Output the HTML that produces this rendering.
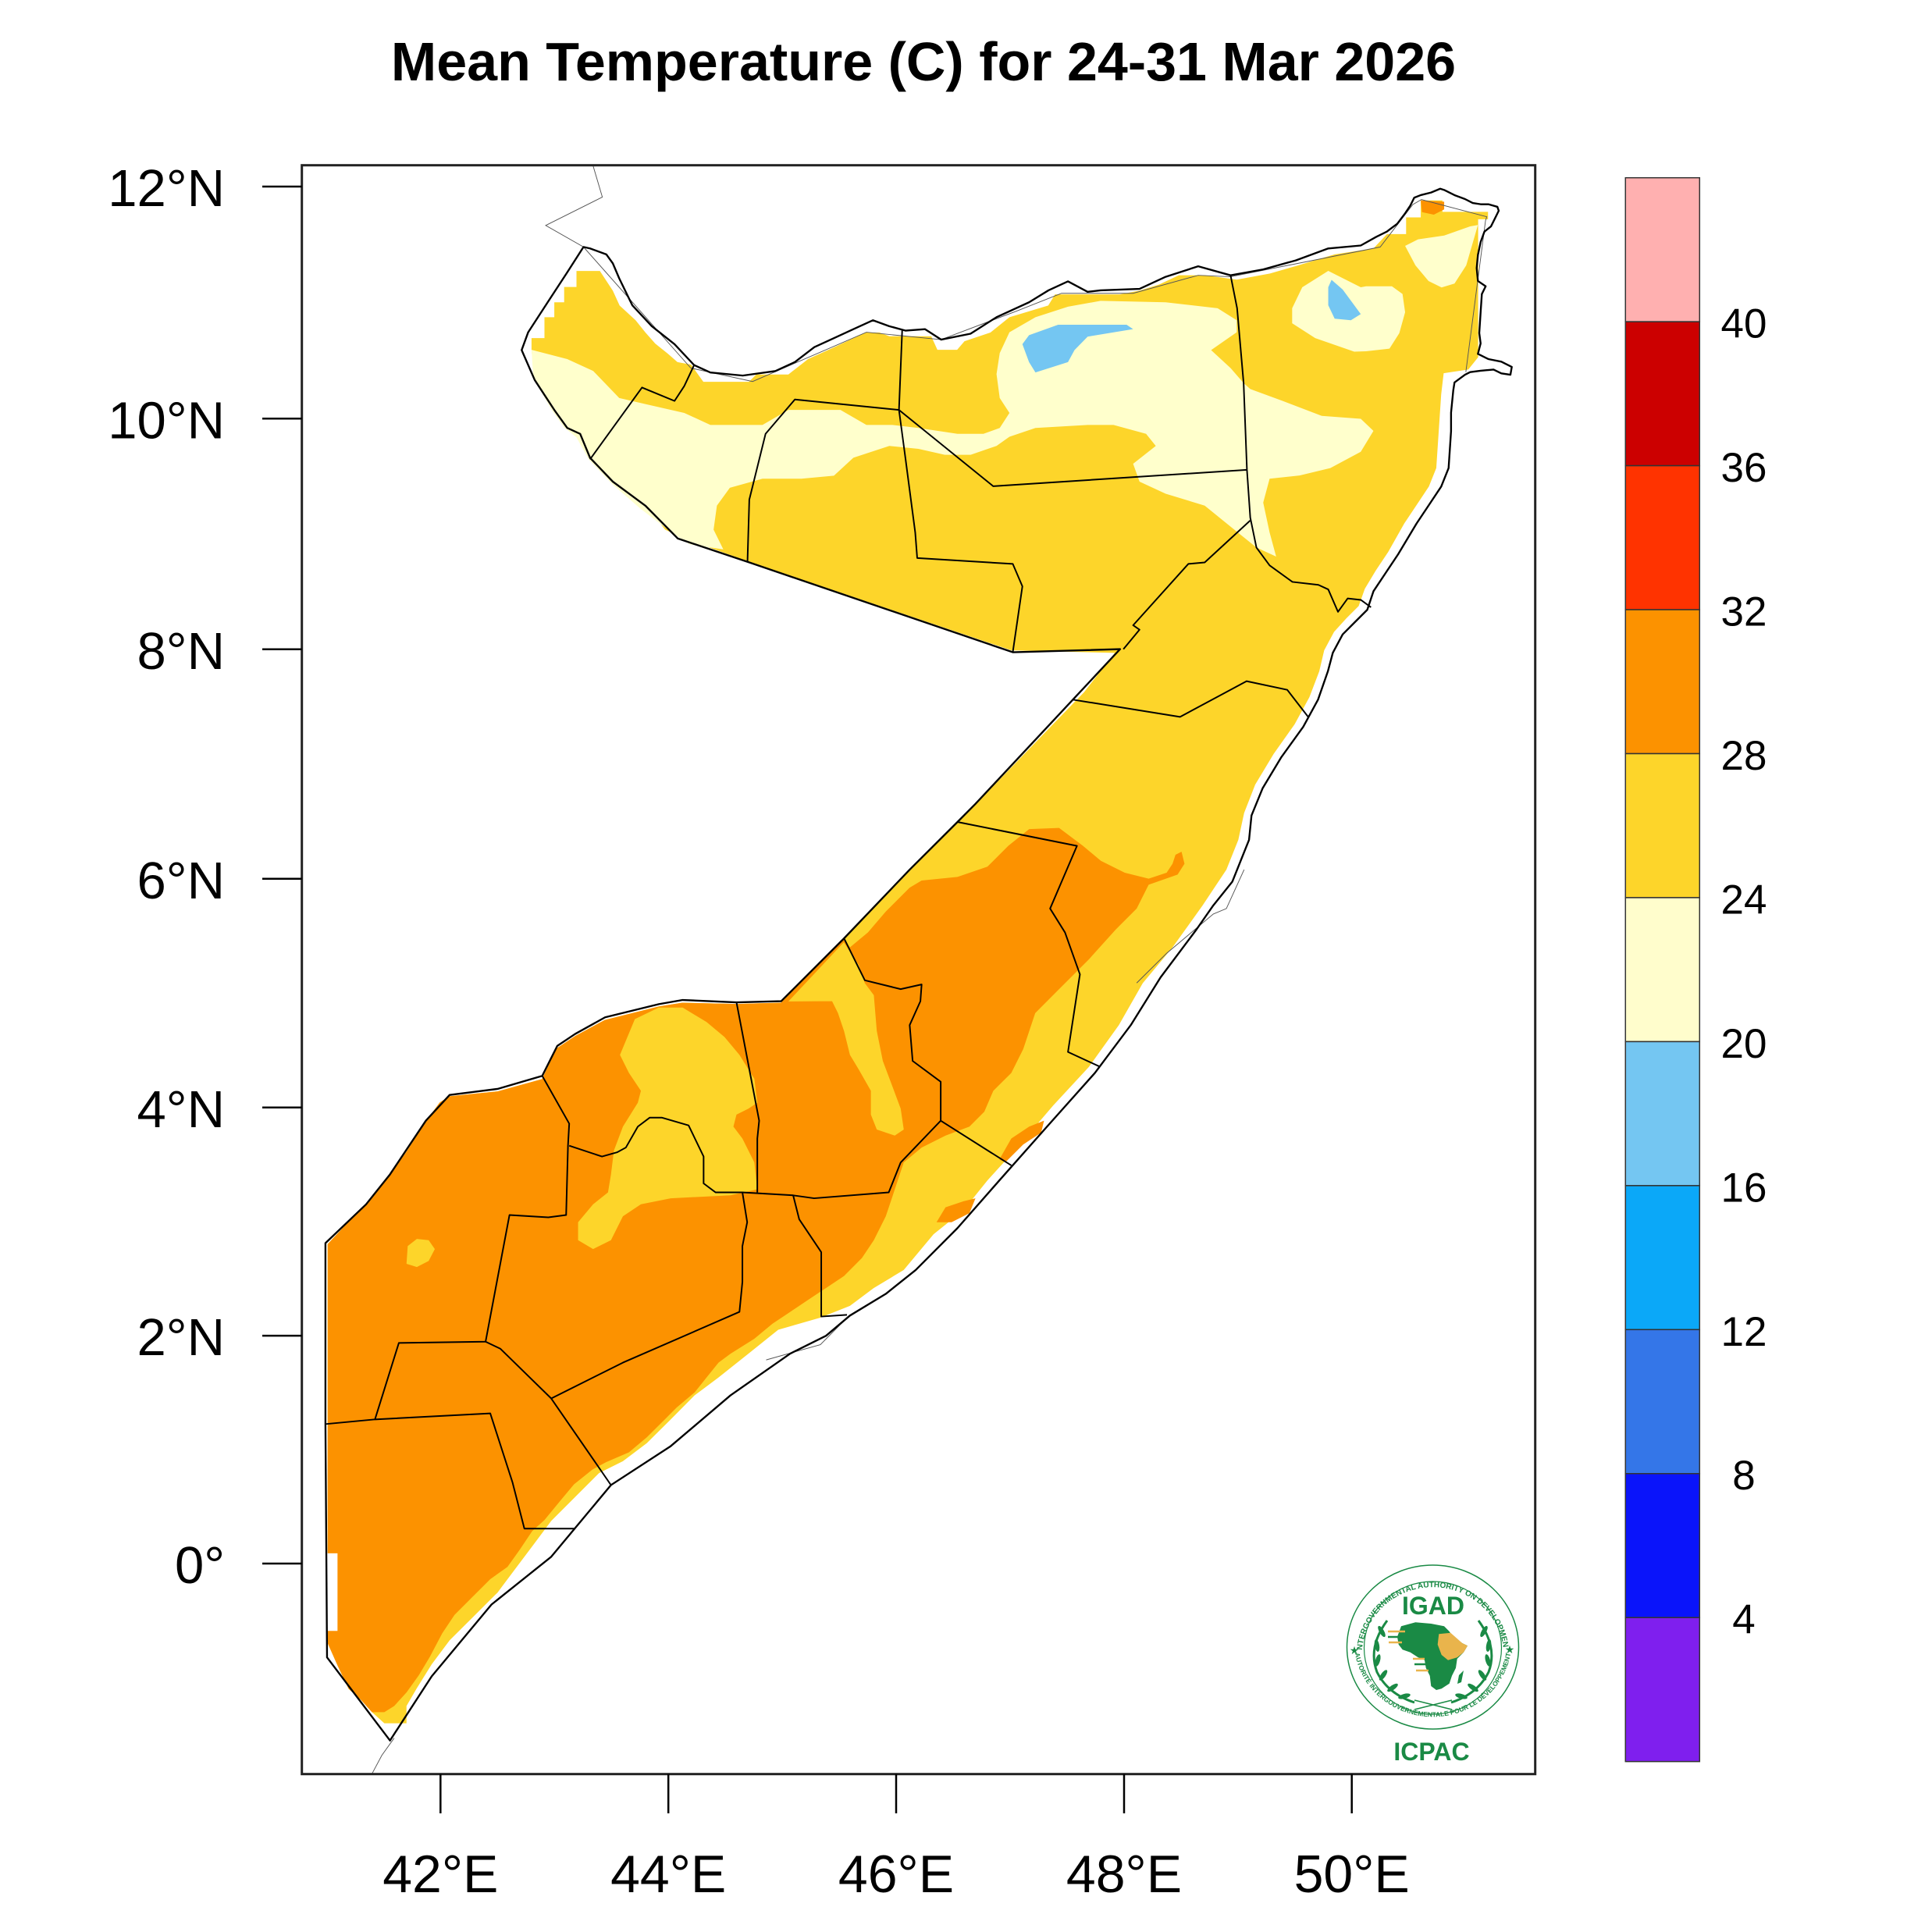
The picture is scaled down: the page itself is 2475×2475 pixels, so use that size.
<!DOCTYPE html>
<html><head><meta charset="utf-8"><style>
html,body{margin:0;padding:0;background:#fff;}
body{width:2475px;height:2475px;overflow:hidden;}
svg{display:block;font-family:"Liberation Sans",Arial,Helvetica,sans-serif;}
</style></head><body>
<svg width="2475" height="2475" viewBox="0 0 2475 2475" xmlns="http://www.w3.org/2000/svg">
<rect width="2475" height="2475" fill="#fff"/>
<text x="1183" y="103" font-size="70" font-weight="bold" text-anchor="middle" fill="#000">Mean Temperature (C) for 24-31 Mar 2026</text>
<defs><clipPath id="pc"><rect x="386.7" y="211.7" width="1580" height="2061"/></clipPath>
<path id="arcTop" d="M1745,2112 A91,88 0 0 1 1926,2112"/>
<path id="arcBot" d="M1735,2112 A101,97 0 0 0 1936,2112"/>
</defs>
<g clip-path="url(#pc)"><g transform="scale(1.578)">
<!-- base fill (yellow) -->
<polygon fill="#FDD52A" points="468,220 487,220 497.5,236 503,248 516,260 524,270 532,279 542,287 550,294 561,296 571,310 608,310 614,304 640,304 656,291.5 677,282 693,274.5 703,270 714,270 722,273 756,273 761,284 777,284 783,277 804,270 819.5,257.5 851,248 856.5,239 909,239 925,236 941,231 957,223.5 978,223.5 1004,227 1031,222 1052,216 1083.5,206.5 1115,201.7 1126,190 1141.5,190 1141.5,176.5 1153.4,176.5 1153.4,162.7 1171,162.7 1171,172 1208,172 1208,178 1200,178 1200,290 1192,300 1172,303 1170,320 1168,350 1166,380 1160,395 1150,410 1140,425 1127,448 1117,463 1108,478 1103,492 1093,502 1083,513 1075,528 1071,545 1063,566 1051,588 1034,612 1019,637 1010,660 1005.3,681.8 995.6,706 976.2,735.2 951.9,769.1 927.7,798.2 908.3,832.2 884,866.1 854.9,897.6 825.8,931.6 801.6,958.3 782.2,982.5 757.9,1002 733.7,1031 709.4,1045.6 690,1060.1 665.7,1069.8 631.8,1079.5 607.6,1098.9 583.3,1118.3 563.9,1132.8 544.5,1152.3 525.1,1171.6 505.7,1186.2 486.3,1195.9 466.9,1215.3 447.5,1234.7 433,1254.1 418.4,1273.5 403.9,1292.9 384.5,1312.3 365,1331.7 350.5,1351.1 338.4,1370.5 330,1385 330,1399 312,1399 302,1390 293,1380 283,1371 274,1352 266,1334 266,1010 280,995 297,978 317,953 330,935 346,910 357,895 365,890 404,886 440,876 452,851 467,841 491,828 535,817 554,814 598,815 634,814 685,762 738.5,707 777,668 792,653 880,562 905,530 821,528 608,456 555,437 540,430 523.9,410 497.5,391 479,372 471,352 460.5,347 450,333 434,308.5 431.5,284 431.5,274.5 442,274.5 442,257.5 450,257.5 450,245.4 458,245.4 458,233 468,233"/>
<!-- light yellow -->
<polygon fill="#FFFFCC" points="431.5,284 460.5,291.5 481.6,301.2 502.7,323.1 523.9,328 555.5,335.2 576.7,345 619,345 640,332.8 682.3,332.8 703.4,345 724.5,345 745.6,347.4 777.3,352.2 798.4,352.2 811.6,347.4 819.5,335.2 811.6,323.1 809,303.7 811.6,286.7 819.5,269.7 840.6,257.5 867,249 893.5,244.2 946.3,245.4 988.5,250.2 1004,260 1004,269.7 983.2,284.2 999,298.8 1009.6,311 1015,315.8 1041.3,325.5 1073,337.6 1104.7,340 1115,349.8 1104.7,366.8 1080,380 1055,386 1030.7,388.6 1025.5,408 1030.7,432.3 1036,451.8 1020,444.5 999,427.5 978,410.5 946.3,400.8 925.1,391 919.9,376.5 938.3,362 930.4,352.2 904,345 883,345 840.6,347.4 819.5,354.6 809,362 788,369.2 767,369.2 745.6,364.4 722,362 692.8,371.6 677,386.2 650.6,388.6 619,388.6 592.5,396 582,410.5 579.3,430 587.2,446 560,442 545,432 520,413 497,393 478,373 468,355 458,347 448,333 433,307"/>
<polygon fill="#FFFFCC" points="1049,250.2 1057.2,233.2 1078.3,219.9 1104.7,233.2 1109,232.4 1130,232.4 1138.6,238.7 1140.7,253.5 1136,270.4 1128,283 1109,285.2 1099.4,285.5 1067.7,274.5 1049,262.4"/>
<polygon fill="#FFFFCC" points="1140.7,199.6 1151.2,194.3 1172.4,191.2 1193.5,183.8 1199.8,182.7 1190.3,215.5 1180.8,230.2 1170.3,233.4 1159.7,228.1 1149.1,215.5"/>
<!-- light blue -->
<polygon fill="#74C6F2" points="835.4,272.1 859,263.6 914.6,263.6 919.9,267.2 883,273.3 872.3,284.2 867,294 840.6,302.4 835.4,294 830,279.4"/>
<polygon fill="#74C6F2" points="1081,227.2 1090,235 1104.7,255 1096.7,260 1083.5,258.7 1078.3,247.8 1078.3,233.2"/>
<!-- orange south -->
<polygon fill="#FC9200" points="690,769.1 704.6,757 719.1,740 738.5,720.6 748.2,714.8 777.3,711.9 801.6,703.6 818.5,686.7 835.5,673.1 859.8,672.1 879.2,686.7 893.7,698.8 913.1,708.5 932.5,713.3 947.1,708.5 951.9,701.2 954.3,693.9 959.2,691.5 961.6,701.2 956,710 932.5,718.2 922.8,737.6 905.8,754.6 884,778.8 859.8,803 840.4,822.5 830.7,851.6 821,871 806.4,885.5 799.1,902.5 787,914.6 767.6,921.9 748.2,931.6 733.7,943.7 728.8,958.3 724,972.8 719.1,987.4 709.4,1006.8 699.7,1021.3 685.2,1035.9 670.6,1045.6 656,1055.3 641.5,1065 627,1074.7 612.4,1086.8 593,1099 583.3,1106.2 573.6,1118.3 563.9,1130.4 549.4,1142.6 539.7,1152.3 525.1,1166.8 510.6,1179 492,1187 481,1193 466,1205 456,1217 442,1234 432,1243 422,1258 412,1272 398,1282 383,1297 369,1311 359,1326 349,1345 340,1360 330,1374 320,1385 312,1390 302,1390 293,1380 283,1371 274,1352 266,1334 266,1010 280,995 297,978 317,953 330,935 346,910 357,895 365,890 404,886 440,876 452,851 467,841 491,828 535,817 554,814 598,815 634,814 685,762"/>
<!-- yellow patches over orange -->
<polygon fill="#FDD52A" points="510.6,871 503.3,856.4 515.4,827.3 534.8,818 554.2,818 573.6,829.7 588.2,841.9 600.3,856.4 612.4,875.8 614.8,895.2 607.6,900 597.9,904.9 595.4,914.6 602.7,924.3 612.4,943.7 614.8,965.5 593,970.4 544.5,972.8 520.3,977.7 505.7,987.4 496,1006.8 481.5,1014 469.3,1006.8 469.3,992.2 481.5,977.7 493.6,968 496,953.4 498.4,934 505.7,914.6 517.8,895.2 520.3,885.5"/>
<polygon fill="#FDD52A" points="640,813 685,765 697.3,783.7 702.1,798.2 709.4,807.9 711.8,837 716.7,861.3 724,880.7 731.2,900 733.7,917 726.4,921.9 711.8,917 707,904.9 707,885.5 697.3,868.5 690,856.4 685.2,837 680.3,822.5 675.5,812.8 665.7,812.8"/>
<polygon fill="#FDD52A" points="331,1011.6 338.4,1005.8 348,1006.8 353,1014 348,1023.7 338.4,1028.6 330,1026"/>
<!-- orange patches -->
<polygon fill="#FC9200" points="811.3,941.3 821,924.3 835.5,914.6 847.6,909.8 845.2,919.5 830.7,929.1 816.1,943.7"/>
<polygon fill="#FC9200" points="760.3,992.2 767.6,980.1 782.2,975.2 791.9,972.8 787,984.9 772.5,992.2"/>
<polygon fill="#FC9200" points="1153.4,162.7 1172.4,163.7 1172.4,170 1164,174.3 1154.4,172.2"/>
<rect x="265.6" y="1261" width="8.4" height="63" fill="#fff"/>
<!-- gray thin lines -->
<g fill="none" stroke="#555" stroke-width="0.6">
<polyline points="481,133 489,160 443,183 473.7,200.5 560.8,298.8 611,309.7 703.4,269.7 764,275.7 824.8,252.7 861.8,238.1 919.9,238.1 972.7,223.5 999,224.7 1120.5,200.5 1147,166 1154,162 1207,176 1206,179 1190,302"/>
<polyline points="1010,706 995.6,737.6 985,742 947,774 922.8,798"/>
<polyline points="622,1104 666,1091.6 687.6,1069.8"/>
<polyline points="320,1411 310,1425 302,1440"/>
</g>
<!-- admin boundaries -->
<g fill="none" stroke="#000" stroke-width="1.25" stroke-linejoin="round">
<polyline points="563.5,296.4 555.5,313.4 547.6,325.5 521.2,314.6 479,372.9"/>
<polyline points="606.8,456.6 608.3,405.6 621.5,352.2 645.3,324.3 729.8,332.8"/>
<polyline points="732.4,268.4 729.8,332.8 735,371.6 743,432.3 744.6,453 822.2,457.8 830,476 822.2,529.5"/>
<polyline points="729.8,332.8 806.3,394.7 1012.3,381.4"/>
<polyline points="999,223.5 1004.3,250.2 1009.6,311 1012.3,381.4 1015,420.2 1020,444.5 1030.7,459 1049.2,472.4 1070.3,474.8 1078.3,478.5 1086.2,496.7 1094.1,485.8 1104.7,487 1113,493"/>
<polyline points="1014.9,422.6 978,456.6 964.7,457.8 919.9,507.6 925.1,511.2 912,527"/>
<polyline points="871,568 958,582 1012,553 1045,560 1062,582"/>
<polyline points="777.3,667.3 874.3,686.7 852.5,737.6 864.6,757 876.7,791 867,854 893,866"/>
<polyline points="685.2,761.8 702.1,795.8 731.2,803 748.2,799.2 747.2,812.8 738.5,832.2 740.9,861.3 763.7,878.2 763.7,909.8 731.2,943.7 721.5,968 660.9,972.8 643.9,970.4 602.7,968 580.9,968 571.2,960.7 571.2,938.9 559,913.6 537.2,907.3 527.5,907.3 517.8,914.6 508.1,931.6 500.9,935.5 488.7,938.9 462.1,930.1"/>
<polyline points="763.7,909.8 821,946.1"/>
<polyline points="597.9,813.7 616.3,909.8 614.8,924.3 614.8,968"/>
<polyline points="602.7,968 606.6,992.2 602.7,1011.6 602.7,1040.7 600.3,1065 505.7,1106.2 447.5,1135.3"/>
<polyline points="643.9,970.4 648.8,989.8 666.7,1016.5 666.7,1068.8 687.6,1067.4"/>
<polyline points="440.2,873.4 462.1,912.2 461.1,930.1 459.6,986.4 445.1,988.3 413.6,986.4 394.2,1089.2 323.8,1090.2 304.4,1152.3"/>
<polyline points="394.2,1089.2 406.3,1095 447.5,1135.3 496,1205.6"/>
<polyline points="264.2,1156.1 304.4,1152.3 398,1147.4 416,1203.2 425.7,1241 466.9,1241"/>
</g>
<!-- country outline -->
<polygon fill="none" stroke="#000" stroke-width="1.5" stroke-linejoin="round" points="473.7,200.5 479,201.7 492.2,206.5 497.5,213.8 502.7,226 513.3,247.8 529.1,264.8 547.6,279.4 563.5,296.4 576.7,302.4 603,304.9 629.5,301.2 645.3,293.9 661.1,281.8 677,274.5 692.8,267.2 708.6,260 721.9,264.8 735,268.4 750.9,267.2 764,275.7 787.9,270.9 809,257.5 835.4,245.4 851.2,235.7 867,228.4 882.9,236.9 893.5,235.7 925.1,234.5 946.3,224.7 972.7,216.2 999,223.5 1025.5,218.7 1051.9,211.4 1078.3,201.7 1104.7,199.3 1117.4,192.2 1125.9,188 1134.3,181.7 1140.7,173.2 1144.9,166.9 1148.1,160.5 1153.4,158.4 1161.8,156.3 1169.2,153.2 1172.4,154.2 1180.8,158.4 1189.3,161.6 1195.6,164.8 1202,165.8 1208.3,165.8 1215.6,167.9 1216.7,171.1 1213.6,177.4 1210.4,183.8 1205.1,188 1202,196.5 1199.8,207 1198.8,217.6 1199.8,228.1 1206.1,232.4 1203,238.7 1202,253.5 1200.9,270.4 1202,278.8 1199.8,287.3 1208.3,291.5 1218.8,293.6 1227.3,297.9 1226.2,304.2 1218.8,303.1 1212.5,300 1202,301 1193.5,302.1 1189.3,304.2 1180.8,310.5 1179.8,316.9 1178,335 1178,350 1176,380 1170,395 1160,410 1150,425 1135,450 1125,465 1115,480 1110,495 1100,505 1090,515 1082,530 1078,545 1070,568 1058,590 1040,615 1025,640 1016,662 1014,681.8 1000.4,715.8 985,735 971.3,754.6 942.2,793.4 918,832.2 888.9,871 850,914.6 811.3,958.3 777.3,997 743.4,1031 719.1,1050.4 690,1068 670.6,1084.4 641.5,1098.9 593,1132.8 544.5,1174 496,1205.6 447.5,1263.8 399,1302.6 350.5,1360.8 316.6,1413 265.5,1345.5 264.2,1156 264.2,1009.2 297.2,977.7 316.6,953.4 345.7,909.8 365,888.9 403.9,884 440.2,873.4 452.4,849.1 466.9,839.4 491.2,825.9 534.8,815.2 554.2,811.8 597.9,813.7 634.2,812.8 685.2,761.8 738.5,706 777.3,667.3 791.8,652.7 909.3,527 822.2,529.5 608.3,456.6 550.3,437.2 523.9,410.5 497.5,391 479,371.6 471,352.2 460.5,347.4 450,332.8 434.1,308.5 423.5,284.2 428.8,269.7 444.6,245.4 460.5,221.1"/>
</g></g>
<!-- frame -->
<rect x="386.7" y="211.7" width="1580" height="2061" fill="none" stroke="#222" stroke-width="3"/>
<!-- ticks -->
<g stroke="#000" stroke-width="2.5">
<line x1="336" y1="239" x2="386.7" y2="239"/>
<line x1="336" y1="536.3" x2="386.7" y2="536.3"/>
<line x1="336" y1="831.8" x2="386.7" y2="831.8"/>
<line x1="336" y1="1125.8" x2="386.7" y2="1125.8"/>
<line x1="336" y1="1418.8" x2="386.7" y2="1418.8"/>
<line x1="336" y1="1711.1" x2="386.7" y2="1711.1"/>
<line x1="336" y1="2003" x2="386.7" y2="2003"/>
<line x1="564.3" y1="2272.7" x2="564.3" y2="2323"/>
<line x1="856.2" y1="2272.7" x2="856.2" y2="2323"/>
<line x1="1148" y1="2272.7" x2="1148" y2="2323"/>
<line x1="1440" y1="2272.7" x2="1440" y2="2323"/>
<line x1="1731.7" y1="2272.7" x2="1731.7" y2="2323"/>
</g>
<g font-size="67" fill="#000" text-anchor="end">
<text x="288" y="264">12°N</text>
<text x="288" y="561.3">10°N</text>
<text x="288" y="856.8">8°N</text>
<text x="288" y="1150.8">6°N</text>
<text x="288" y="1443.8">4°N</text>
<text x="288" y="1736.1">2°N</text>
<text x="288" y="2028">0°</text>
</g>
<g font-size="68" fill="#000" text-anchor="middle">
<text x="564.3" y="2424">42°E</text>
<text x="856.2" y="2424">44°E</text>
<text x="1148" y="2424">46°E</text>
<text x="1440" y="2424">48°E</text>
<text x="1731.7" y="2424">50°E</text>
</g>
<!-- colorbar -->
<g stroke="#333" stroke-width="1.5">
<rect x="2082.3" y="227.7" width="95" height="184.45" fill="#FFB0B0"/>
<rect x="2082.3" y="412.15" width="95" height="184.45" fill="#CC0000"/>
<rect x="2082.3" y="596.6" width="95" height="184.45" fill="#FF3300"/>
<rect x="2082.3" y="781.05" width="95" height="184.45" fill="#FC9200"/>
<rect x="2082.3" y="965.5" width="95" height="184.45" fill="#FDD52A"/>
<rect x="2082.3" y="1149.95" width="95" height="184.45" fill="#FFFDCC"/>
<rect x="2082.3" y="1334.4" width="95" height="184.45" fill="#74C6F2"/>
<rect x="2082.3" y="1518.85" width="95" height="184.45" fill="#0BA8F8"/>
<rect x="2082.3" y="1703.3" width="95" height="184.45" fill="#3476E8"/>
<rect x="2082.3" y="1887.75" width="95" height="184.45" fill="#0A14FA"/>
<rect x="2082.3" y="2072.2" width="95" height="184.45" fill="#7F1FEE"/>
</g>
<g font-size="53" fill="#000" text-anchor="middle">
<text x="2234" y="432.6">40</text>
<text x="2234" y="617.1">36</text>
<text x="2234" y="801.5">32</text>
<text x="2234" y="986">28</text>
<text x="2234" y="1170.4">24</text>
<text x="2234" y="1354.9">20</text>
<text x="2234" y="1539.3">16</text>
<text x="2234" y="1723.8">12</text>
<text x="2234" y="1908.2">8</text>
<text x="2234" y="2092.7">4</text>
</g>
<!-- logo -->
<g>
<ellipse cx="1835.5" cy="2110" rx="110" ry="105" fill="#fff" stroke="#1a8a45" stroke-width="1.5"/>
<ellipse cx="1835.5" cy="2111" rx="88" ry="85" fill="none" stroke="#1a8a45" stroke-width="1.2"/>
<text font-size="10" font-weight="bold" fill="#1a8a45"><textPath href="#arcTop" startOffset="50%" text-anchor="middle">INTERGOVERNMENTAL AUTHORITY ON DEVELOPMENT</textPath></text>
<text font-size="8.5" font-weight="bold" fill="#1a8a45"><textPath href="#arcBot" startOffset="50%" text-anchor="middle">AUTORITÉ INTERGOUVERNEMENTALE POUR LE DÉVELOPPEMENT</textPath></text>
<text x="1735" y="2119" font-size="14" fill="#1a8a45" text-anchor="middle">★</text>
<text x="1934" y="2118" font-size="14" fill="#1a8a45" text-anchor="middle">★</text>
<text x="1836" y="2068" font-size="32" font-weight="bold" fill="#1a8a45" text-anchor="middle">IGAD</text>
<g fill="none" stroke="#1a8a45" stroke-width="3">
<path d="M1777,2076 Q1752,2110 1764,2142 Q1778,2170 1812,2181"/>
<path d="M1894,2076 Q1919,2110 1907,2142 Q1893,2170 1859,2181"/>
<path d="M1812,2190 L1860,2178 M1860,2190 L1812,2178" stroke-width="1.5"/>
</g>
<g fill="#1a8a45">
<ellipse cx="1770" cy="2090" rx="3" ry="8" transform="rotate(-30 1770 2090)"/>
<ellipse cx="1764" cy="2108" rx="3" ry="8" transform="rotate(-10 1764 2108)"/>
<ellipse cx="1765" cy="2127" rx="3" ry="8" transform="rotate(15 1765 2127)"/>
<ellipse cx="1772" cy="2146" rx="3" ry="8" transform="rotate(35 1772 2146)"/>
<ellipse cx="1784" cy="2162" rx="3" ry="8" transform="rotate(55 1784 2162)"/>
<ellipse cx="1799" cy="2173" rx="3" ry="8" transform="rotate(75 1799 2173)"/>
<ellipse cx="1901" cy="2090" rx="3" ry="8" transform="rotate(30 1901 2090)"/>
<ellipse cx="1907" cy="2108" rx="3" ry="8" transform="rotate(10 1907 2108)"/>
<ellipse cx="1906" cy="2127" rx="3" ry="8" transform="rotate(-15 1906 2127)"/>
<ellipse cx="1899" cy="2146" rx="3" ry="8" transform="rotate(-35 1899 2146)"/>
<ellipse cx="1887" cy="2162" rx="3" ry="8" transform="rotate(-55 1887 2162)"/>
<ellipse cx="1872" cy="2173" rx="3" ry="8" transform="rotate(-75 1872 2173)"/>
<polygon points="1795,2083.3 1813.3,2078.3 1833.3,2080 1850,2083.3 1856.7,2090 1860,2095 1873.3,2105 1880,2108.3 1875,2116.7 1866.7,2125 1865,2136.7 1860,2146.7 1856.7,2156.7 1846.7,2163.3 1840,2165 1833.3,2160 1831.7,2146.7 1826.7,2136.7 1825,2126.7 1816.7,2123.3 1806.7,2116.7 1796.7,2113.3 1791.7,2106.7 1790,2096.7"/>
<polygon points="1869,2146 1875,2140 1872,2155 1867,2157"/>
</g>
<polygon fill="#E9B44C" points="1843.3,2093.3 1858.3,2091.7 1873.3,2105 1880,2108.3 1875,2116.7 1866.7,2123.3 1855,2126.7 1846.7,2120 1841.7,2106.7"/>
<g stroke-width="2.5">
<line x1="1778" y1="2090" x2="1800" y2="2090" stroke="#E9B44C"/>
<line x1="1778" y1="2097" x2="1795" y2="2097" stroke="#1a8a45"/>
<line x1="1779" y1="2104" x2="1796" y2="2104" stroke="#E9B44C"/>
<line x1="1810" y1="2125" x2="1825" y2="2125" stroke="#E9B44C"/>
<line x1="1812" y1="2132" x2="1828" y2="2132" stroke="#1a8a45"/>
<line x1="1814" y1="2140" x2="1830" y2="2140" stroke="#E9B44C"/>
</g>
<text x="1834" y="2255" font-size="32" font-weight="bold" fill="#1a8a45" text-anchor="middle">ICPAC</text>
</g>
</svg>
</body></html>
